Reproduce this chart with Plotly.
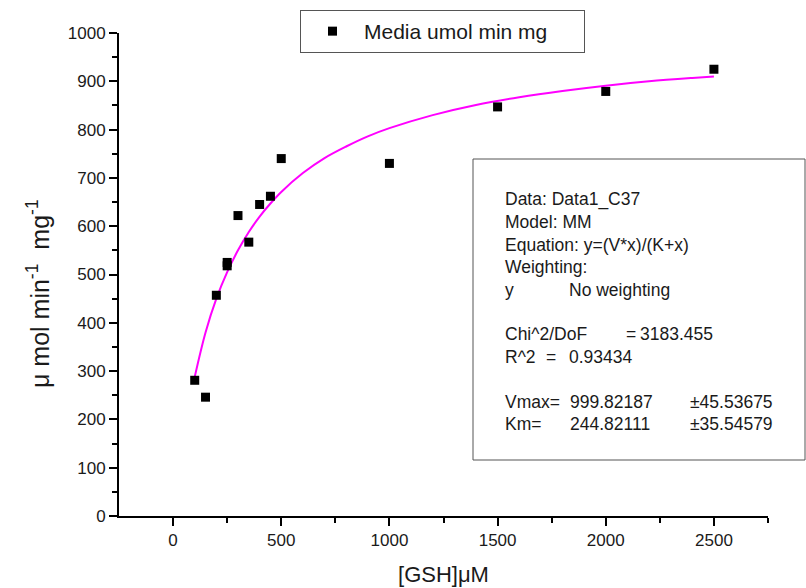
import plotly.graph_objects as go

# ---- data ----
gsh_uM = [100, 150, 200, 250, 250, 300, 350, 400, 450, 500, 1000, 1500, 2000, 2500]
rate = [281, 246, 457, 525, 518, 622, 567, 645, 662, 740, 730, 847, 879, 925]

fit_x = [100, 150, 200, 250, 300, 350, 400, 450, 500, 600, 700, 800, 900, 1000,
         1200, 1400, 1600, 1800, 2000, 2200, 2400, 2500]
fit_y = [288, 380, 450, 505, 550, 588, 620, 647, 671, 710, 741, 765, 786, 803,
         830, 851, 867, 880, 891, 900, 907, 910]

x_ticks = [0, 500, 1000, 1500, 2000, 2500]
x_minor = [250, 750, 1250, 1750, 2250, 2750]
y_ticks = list(range(0, 1001, 100))
y_minor = list(range(50, 1000, 100))

legend_name = "Media umol min mg"
# (text, left pixel) pieces for each line of the fit report
fit_lines = [
    [("Data: Data1_C37", 503)],
    [("Model: MM", 503)],
    [("Equation: y=(V*x)/(K+x)", 503)],
    [("Weighting:", 503)],
    [("y", 503), ("No weighting", 567)],
    [],
    [("Chi^2/DoF", 503), ("=", 624), ("3183.455", 638)],
    [("R^2", 503), ("=", 544), ("0.93434", 567)],
    [],
    [("Vmax=", 503), ("999.82187", 568), ("±45.53675", 688)],
    [("Km=", 503), ("244.82111", 568), ("±35.54579", 688)],
]

# ---- layout geometry (pixels) ----
W, H = 806, 588
L, R, T, B = 119, 38, 33, 72
PW = W - L - R
PH = H - T - B


def px(xp):
    return (xp - L) / PW


def py(yp):
    return (H - B - yp) / PH


FONT = "Liberation Sans, Arial, sans-serif"
TXT = "#1a1a1a"

fig = go.Figure()
fig.add_trace(go.Scatter(
    x=fit_x, y=fit_y, mode="lines", showlegend=False, line_shape="spline",
    line=dict(color="#ff00ff", width=2), hoverinfo="skip"))
fig.add_trace(go.Scatter(
    x=gsh_uM, y=rate, mode="markers", name=legend_name,
    marker=dict(symbol="square", size=9, color="black", line=dict(width=0))))

axis_common = dict(
    showgrid=False, zeroline=False, showline=True, linecolor="black", linewidth=2,
    ticks="outside", ticklen=8, tickwidth=2, tickcolor="black",
    tickfont=dict(family=FONT, size=17, color=TXT), mirror=False,
)

fig.update_xaxes(
    range=[-250, 2750], tickvals=x_ticks,
    minor=dict(tickvals=x_minor, ticks="outside", ticklen=5, tickwidth=2, tickcolor="black"),
    title=dict(text="[GSH]μM", font=dict(family=FONT, size=22, color=TXT), standoff=17),
    **axis_common)
fig.update_yaxes(
    range=[0, 1000], tickvals=y_ticks,
    minor=dict(tickvals=y_minor, ticks="outside", ticklen=5, tickwidth=2, tickcolor="black"),
    **axis_common)

annotations = []
line_y0 = 200
line_dy = 22.4
for i, pieces in enumerate(fit_lines):
    yy = line_y0 + i * line_dy
    for text, xl in pieces:
        annotations.append(dict(
            text=text, x=px(xl), y=py(yy), xref="paper", yref="paper",
            xanchor="left", yanchor="middle", showarrow=False,
            font=dict(family=FONT, size=17.5, color=TXT)))

# y-axis title (placed as in the reference, slightly below the axis centre)
annotations.append(dict(
    text="μ mol min<sup>-1</sup>  mg<sup>-1</sup>", textangle=-90,
    x=px(38), y=py(294), xref="paper", yref="paper",
    xanchor="center", yanchor="middle", showarrow=False,
    font=dict(family=FONT, size=25, color=TXT)))

fig.update_layout(
    width=W, height=H,
    margin=dict(l=L, r=R, t=T, b=B, autoexpand=False),
    paper_bgcolor="white", plot_bgcolor="white",
    showlegend=True,
    legend=dict(x=px(300), y=py(10), xanchor="left", yanchor="top",
                orientation="h",
                bgcolor="white", bordercolor="#555555", borderwidth=1,
                font=dict(family=FONT, size=21, color=TXT), itemwidth=53,
                entrywidth=215, entrywidthmode="pixels"),
    annotations=annotations,
    shapes=[dict(type="rect", xref="paper", yref="paper",
                 x0=px(473), x1=px(805), y0=py(460), y1=py(159),
                 line=dict(color="#555555", width=1), fillcolor="white", layer="above")],
)

fig.write_html("out.html")
